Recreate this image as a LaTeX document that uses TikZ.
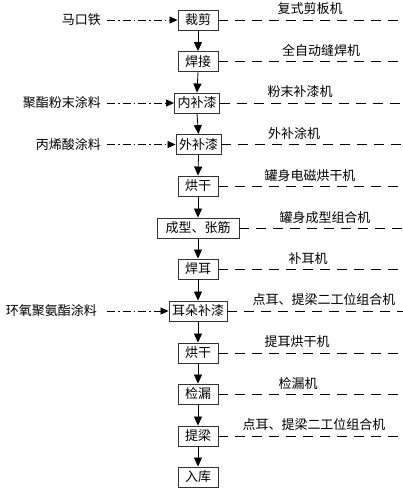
\documentclass[tikz,border=0pt]{standalone}
\usepackage{fontspec}
\setmainfont{Noto Sans CJK SC}
\usetikzlibrary{arrows.meta}
\tikzset{
  stepbox/.style={draw=black!80, line width=0.9pt, minimum width=40pt, minimum height=20pt, inner xsep=3pt, inner ysep=0pt, font=\fontsize{13}{13}\selectfont},
  flow/.style={line width=0.8pt, -{Triangle[length=9pt,width=8pt]}},
  feed/.style={line width=0.8pt, dash pattern=on 8pt off 3pt on 1.5pt off 3pt, -{Triangle[length=8pt,width=7pt]}},
  mach/.style={line width=0.8pt, dash pattern=on 10pt off 7pt},
  lab/.style={font=\fontsize{13}{13}\selectfont, inner sep=1pt},
}
\begin{document}
\begin{tikzpicture}[x=1pt,y=-1pt]
\useasboundingbox (0,0) rectangle (403,491);
% process boxes
\node[stepbox] (b1) at (198,20) {裁剪};
\node[stepbox] (b2) at (198,61.5) {焊接};
\node[stepbox] (b3) at (197,103) {内补漆};
\node[stepbox] (b4) at (198.5,144.5) {外补漆};
\node[stepbox] (b5) at (198,186) {烘干};
\node[stepbox, minimum width=82pt] (b6) at (198,228) {成型、张筋};
\node[stepbox] (b7) at (198,269) {焊耳};
\node[stepbox] (b8) at (198,311) {耳朵补漆};
\node[stepbox] (b9) at (198,353) {烘干};
\node[stepbox] (b10) at (198,394) {检漏};
\node[stepbox] (b11) at (198,436) {提梁};
\node[stepbox] (b12) at (198,477) {入库};
% flow arrows
\foreach \a/\b in {b1/b2,b2/b3,b3/b4,b4/b5,b5/b6,b6/b7,b7/b8,b8/b9,b9/b10,b10/b11,b11/b12}
  \draw[flow] (\a.south) -- (\b.north);
% inputs
\node[lab, anchor=east] (i1) at (102,20) {马口铁};
\node[lab, anchor=east] (i3) at (102,103) {聚酯粉末涂料};
\node[lab, anchor=east] (i4) at (102,144.5) {丙烯酸涂料};
\node[lab, anchor=east] (i8) at (98,311) {环氧聚氨酯涂料};
\draw[feed, shorten <=5pt] (i1.east) -- (b1.west);
\draw[feed, shorten <=5pt] (i3.east) -- (b3.west);
\draw[feed, shorten <=5pt] (i4.east) -- (b4.west);
\draw[feed, shorten <=9pt] (i8.east) -- (b8.west);
% machine lines
\foreach \n/\y in {1/20,2/61.5,3/103,4/144.5,5/186,6/228,7/269,8/311,9/353,10/394,11/436}
  \coordinate (e\n) at (403,\y);
\foreach \n in {1,...,11}
  \draw[mach] (b\n.east) -- (e\n);
% machine labels
\node[lab] (m1) at (310,9) {复式剪板机};
\node[lab] (m2) at (321,51) {全自动缝焊机};
\node[lab] (m3) at (300,92) {粉末补漆机};
\node[lab] (m4) at (294,134) {外补涂机};
\node[lab] (m5) at (310,176) {罐身电磁烘干机};
\node[lab] (m6) at (325,218) {罐身成型组合机};
\node[lab] (m7) at (308,259) {补耳机};
\node[lab] (m8) at (324,300) {点耳、提梁二工位组合机};
\node[lab] (m9) at (297,342) {提耳烘干机};
\node[lab] (m10) at (298,384) {检漏机};
\node[lab] (m11) at (314,425) {点耳、提梁二工位组合机};
\end{tikzpicture}
\end{document}
